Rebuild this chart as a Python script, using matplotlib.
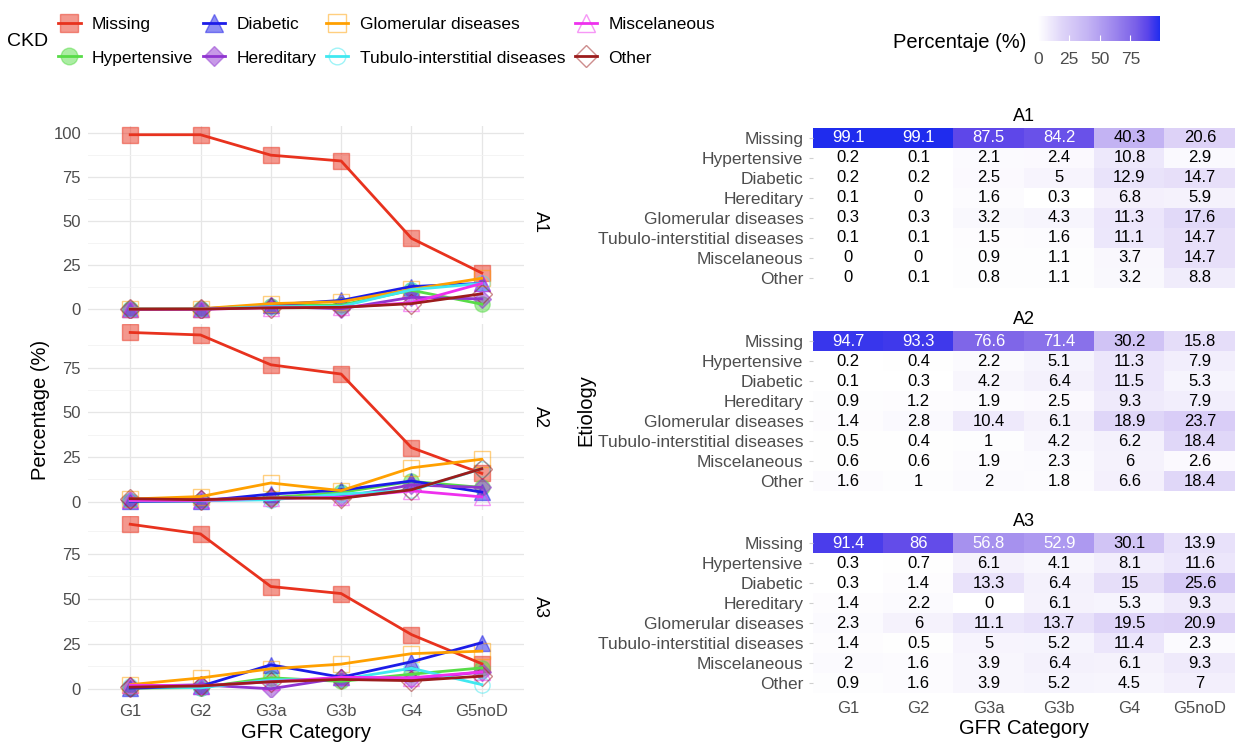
import numpy as np
import matplotlib
matplotlib.use("Agg")
import matplotlib.pyplot as plt
from matplotlib.colors import LinearSegmentedColormap, to_rgba
from matplotlib.lines import Line2D
from matplotlib.ticker import MultipleLocator

plt.rcParams['font.family'] = ['Liberation Sans', 'DejaVu Sans']

# data (percentage of each etiology per GFR category, by albuminuria group)
gfr = ['G1', 'G2', 'G3a', 'G3b', 'G4', 'G5noD']
etiology = ['Missing', 'Hypertensive', 'Diabetic', 'Hereditary',
            'Glomerular diseases', 'Tubulo-interstitial diseases',
            'Miscelaneous', 'Other']
groups = ['A1', 'A2', 'A3']

a1 = [[99.1, 99.1, 87.5, 84.2, 40.3, 20.6],
      [0.2, 0.1, 2.1, 2.4, 10.8, 2.9],
      [0.2, 0.2, 2.5, 5, 12.9, 14.7],
      [0.1, 0, 1.6, 0.3, 6.8, 5.9],
      [0.3, 0.3, 3.2, 4.3, 11.3, 17.6],
      [0.1, 0.1, 1.5, 1.6, 11.1, 14.7],
      [0, 0, 0.9, 1.1, 3.7, 14.7],
      [0, 0.1, 0.8, 1.1, 3.2, 8.8]]

a2 = [[94.7, 93.3, 76.6, 71.4, 30.2, 15.8],
      [0.2, 0.4, 2.2, 5.1, 11.3, 7.9],
      [0.1, 0.3, 4.2, 6.4, 11.5, 5.3],
      [0.9, 1.2, 1.9, 2.5, 9.3, 7.9],
      [1.4, 2.8, 10.4, 6.1, 18.9, 23.7],
      [0.5, 0.4, 1, 4.2, 6.2, 18.4],
      [0.6, 0.6, 1.9, 2.3, 6, 2.6],
      [1.6, 1, 2, 1.8, 6.6, 18.4]]

a3 = [[91.4, 86, 56.8, 52.9, 30.1, 13.9],
      [0.3, 0.7, 6.1, 4.1, 8.1, 11.6],
      [0.3, 1.4, 13.3, 6.4, 15, 25.6],
      [1.4, 2.2, 0, 6.1, 5.3, 9.3],
      [2.3, 6, 11.1, 13.7, 19.5, 20.9],
      [1.4, 0.5, 5, 5.2, 11.4, 2.3],
      [2, 1.6, 3.9, 6.4, 6.1, 9.3],
      [0.9, 1.6, 3.9, 5.2, 4.5, 7]]

tables = [np.array(a1), np.array(a2), np.array(a3)]

# styles
colors = ['#e8321e', '#58dc48', '#1c1ce8', '#9035d0',
          '#ffa000', '#40e8f0', '#ee30ee', '#9c1c1c']
markers = ['s', 'o', '^', 'D', 's', 'o', '^', 'D']
msizes = [12, 11, 12, 9, 12, 11, 12, 10]
filled = [True, True, True, True, False, False, False, False]

cmap = LinearSegmentedColormap.from_list('wb', [
    (0.0, '#ffffff'), (0.2, '#ded4f8'), (0.4, '#c5b5f4'), (0.6, '#a28cee'),
    (0.8, '#7a60e8'), (0.9, '#5a44ea'), (1.0, '#1f2cee')])
vmax = max(t.max() for t in tables)

W, H = 1237, 742
fig = plt.figure(figsize=(W / 100, H / 100), dpi=100)


def box(x0, y0, x1, y1):
    return [x0 / W, 1 - y1 / H, (x1 - x0) / W, (y1 - y0) / H]


grey30 = '#4d4d4d'

# ---- left: line charts ----
line_boxes = [(88, 126, 524, 318), (88, 324, 524, 510), (88, 516, 524, 697)]
x = np.arange(len(gfr))
for g, tab, bx in zip(groups, tables, line_boxes):
    ax = fig.add_axes(box(*bx))
    for i in range(len(etiology)):
        mc = to_rgba(colors[i], 0.5)
        ax.plot(x, tab[i], ls='none', marker=markers[i], ms=msizes[i],
                mfc=mc if filled[i] else 'none', mec=mc, mew=1.0, zorder=2)
    for i in range(len(etiology)):
        ax.plot(x, tab[i], color=colors[i], lw=2, zorder=3)
    top = tab.max()
    ax.set_ylim(-0.05 * top, top * 1.05)
    ax.set_xlim(-0.6, len(gfr) - 0.4)
    ax.yaxis.set_major_locator(MultipleLocator(25))
    ax.yaxis.set_minor_locator(MultipleLocator(12.5))
    ax.grid(True, which='major', color='#e6e6e6', lw=0.9)
    ax.grid(True, which='minor', axis='y', color='#f2f2f2', lw=0.6)
    ax.set_axisbelow(True)
    for s in ax.spines.values():
        s.set_visible(False)
    ax.tick_params(which='both', length=0, labelsize=12, labelcolor=grey30, pad=5)
    ax.set_xticks(x)
    if g == 'A3':
        ax.set_xticklabels(gfr)
        ax.set_xlabel('GFR Category', fontsize=14.5, labelpad=3)
    else:
        ax.set_xticklabels([])
    ax.text(1.0 + 16 / 436, 0.5, g, transform=ax.transAxes, rotation=-90,
            ha='center', va='center', fontsize=13)

fig.text(40 / W, 1 - 410 / H, 'Percentage (%)', rotation=90,
         ha='center', va='center', fontsize=14.5)

# ---- right: heatmaps ----
heat_boxes = [(813, 128, 1235, 288), (813, 331, 1235, 491), (813, 533, 1235, 693)]
for g, tab, bx in zip(groups, tables, heat_boxes):
    ax = fig.add_axes(box(*bx))
    im = ax.imshow(tab, cmap=cmap, vmin=0, vmax=vmax, aspect='auto',
                   interpolation='nearest')
    for r in range(tab.shape[0]):
        for c in range(tab.shape[1]):
            v = tab[r, c]
            ax.text(c, r, f'{v:g}', ha='center', va='center', fontsize=12,
                    color='white' if v > 50 else 'black')
    for s in ax.spines.values():
        s.set_visible(False)
    ax.set_yticks(range(len(etiology)))
    ax.set_yticklabels(etiology)
    ax.set_xticks(range(len(gfr)))
    ax.tick_params(axis='y', length=3, color='#d0d0d0', labelsize=12.5,
                   labelcolor=grey30, pad=4)
    ax.tick_params(axis='x', length=0, labelsize=12, labelcolor=grey30, pad=6)
    if g == 'A3':
        ax.set_xticklabels(gfr)
        ax.set_xlabel('GFR Category', fontsize=14.5, labelpad=2)
    else:
        ax.set_xticklabels([])
    ax.set_title(g, fontsize=13, pad=5)

fig.text(586 / W, 1 - 410 / H, 'Etiology', rotation=90,
         ha='center', va='center', fontsize=14.5)

# ---- legends ----
handles = []
for i in range(len(etiology)):
    mc = to_rgba(colors[i], 0.5)
    handles.append(Line2D([], [], color=colors[i], lw=2, marker=markers[i],
                          ms=msizes[i] + 1, mfc=mc if filled[i] else 'none',
                          mec=mc, mew=1.0))
fig.text(7 / W, 1 - 42 / H, 'CKD', ha='left', va='center', fontsize=14)
fig.legend(handles, etiology, loc='upper left', ncol=4, frameon=False,
           bbox_to_anchor=(58 / W, 1 - 17 / H), fontsize=12.5,
           handlelength=1.3, handletextpad=0.64, columnspacing=0.55,
           labelspacing=1.05, borderaxespad=0, borderpad=0)

cax = fig.add_axes(box(1038, 16, 1160, 41))
cb = fig.colorbar(im, cax=cax, orientation='horizontal', ticks=[0, 25, 50, 75])
cb.outline.set_visible(False)
cax.tick_params(length=4, color='white', direction='in', labelsize=12.5,
                labelcolor=grey30, pad=8)
fig.text(1026 / W, 1 - 43 / H, 'Percentaje (%)', ha='right', va='center',
         fontsize=14.5)

fig.savefig('out.png', dpi=100)
